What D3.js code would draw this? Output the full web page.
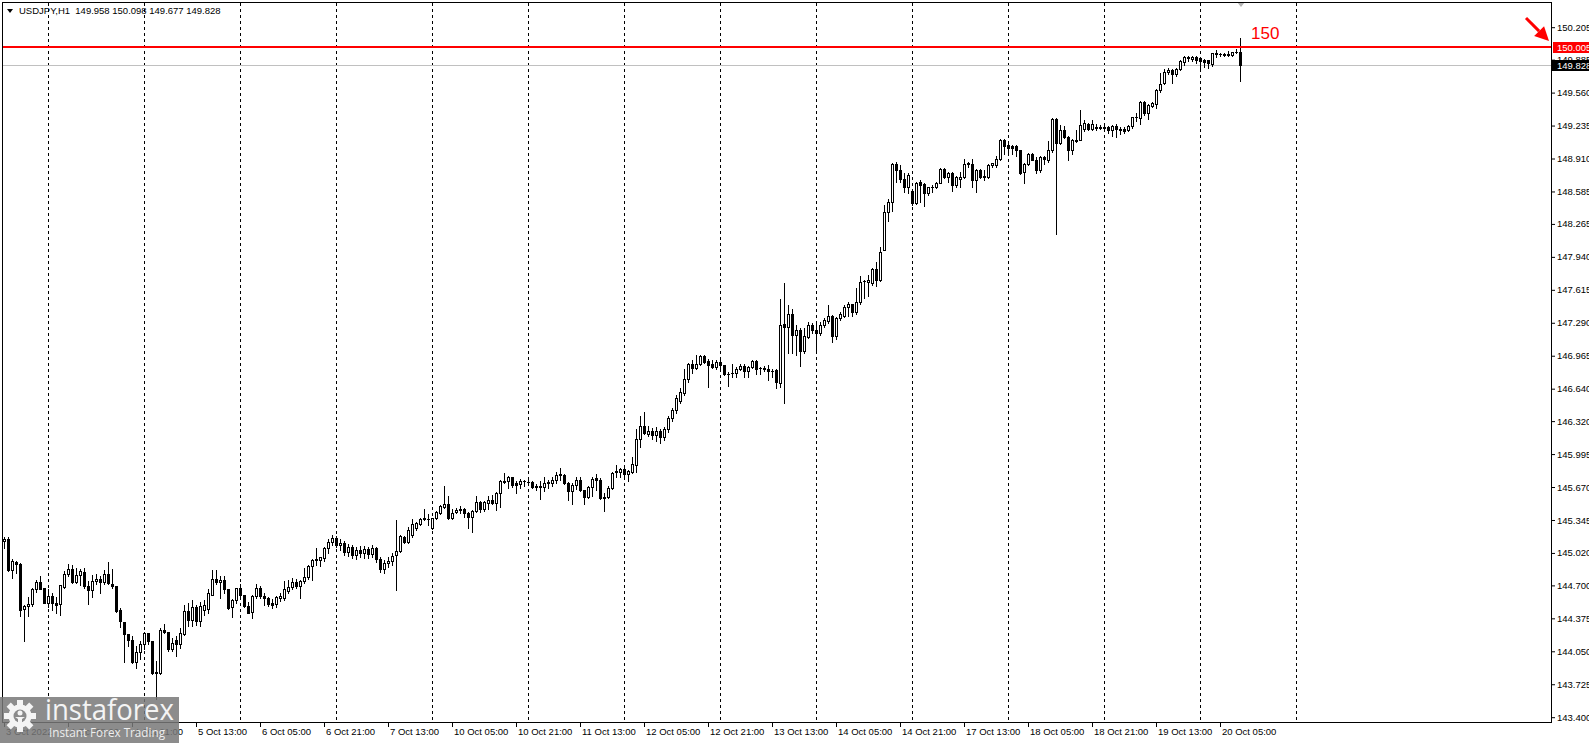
<!DOCTYPE html>
<html>
<head>
<meta charset="utf-8">
<script src="https://cdn.jsdelivr.net/npm/d3@7"></script>
<style>
  body { margin: 0; background: #fff; overflow: hidden; }
  text { font-family: "Liberation Sans", Arial, sans-serif; font-size: 9.5px; }
</style>
</head>
<body>
<script>
const W = 1589, H = 743;

// USDJPY H1, bars from 3 Oct 2022 13:00 onwards
const header = "USDJPY,H1  149.958 150.098 149.677 149.828";

const open = [
  145.14,145.16,144.85,144.93,144.91,144.47,144.50,144.52,144.66,144.73,
  144.67,144.53,144.60,144.53,144.52,144.68,144.81,144.86,144.73,144.80,
  144.83,144.69,144.65,144.74,144.76,144.73,144.81,144.71,144.69,144.46,
  144.34,144.22,144.16,143.94,144.04,144.12,144.23,144.15,143.84,143.84,
  144.26,144.24,144.07,144.16,144.12,144.22,144.45,144.36,144.49,144.35,
  144.46,144.47,144.61,144.76,144.73,144.75,144.66,144.49,144.56,144.67,
  144.61,144.50,144.44,144.60,144.67,144.60,144.58,144.53,144.52,144.58,
  144.58,144.64,144.68,144.73,144.69,144.74,144.78,144.89,144.95,144.95,
  144.97,145.07,145.13,145.17,145.10,145.12,145.03,145.08,145.00,145.05,
  145.02,145.06,145.01,145.07,144.96,144.86,144.92,144.94,145.00,145.04,
  145.18,145.13,145.20,145.27,145.31,145.36,145.35,145.27,145.36,145.41,
  145.47,145.50,145.36,145.42,145.44,145.45,145.41,145.37,145.43,145.52,
  145.45,145.51,145.54,145.51,145.61,145.72,145.73,145.77,145.71,145.70,
  145.73,145.72,145.72,145.68,145.68,145.67,145.71,145.71,145.74,145.79,
  145.79,145.71,145.63,145.69,145.74,145.64,145.57,145.67,145.76,145.74,
  145.57,145.57,145.66,145.82,145.82,145.85,145.80,145.82,145.89,146.14,
  146.27,146.19,146.22,146.18,146.22,146.16,146.24,146.35,146.43,146.52,
  146.60,146.74,146.88,146.84,146.88,146.96,146.91,146.88,146.85,146.90,
  146.87,146.785,146.79,146.79,146.83,146.86,146.81,146.85,146.91,146.845,
  146.84,146.83,146.815,146.82,146.70,147.28,147.25,147.38,147.17,147.22,
  147.01,147.15,147.27,147.22,147.19,147.27,147.31,147.36,147.16,147.34,
  147.36,147.45,147.48,147.40,147.49,147.70,147.69,147.68,147.82,147.71,
  148.01,148.38,148.48,148.86,148.80,148.71,148.63,148.59,148.47,148.68,
  148.66,148.57,148.63,148.63,148.67,148.81,148.73,148.77,148.65,148.71,
  148.73,148.86,148.86,148.70,148.80,148.74,148.73,148.85,148.85,148.91,
  149.09,149.04,149.03,149.03,148.99,148.78,148.86,148.95,148.90,148.80,
  148.92,148.90,148.99,149.30,149.06,149.19,149.12,148.99,149.08,149.09,
  149.20,149.25,149.20,149.22,149.215,149.22,149.22,149.19,149.23,149.20,
  149.20,149.19,149.23,149.32,149.31,149.47,149.36,149.43,149.45,149.59,
  149.65,149.76,149.78,149.74,149.79,149.86,149.91,149.89,149.91,149.90,
  149.88,149.88,149.84,149.95,149.945,149.94,149.935,149.935,149.96,149.958
];
const high = [
  145.18,145.18,144.96,144.94,144.92,144.51,144.59,144.67,144.75,144.79,
  144.67,144.66,144.62,144.59,144.70,144.84,144.91,144.90,144.87,144.86,
  144.87,144.74,144.80,144.81,144.79,144.85,144.93,144.86,144.69,144.48,
  144.34,144.22,144.20,144.10,144.15,144.24,144.23,144.15,143.95,144.28,
  144.32,144.24,144.18,144.20,144.28,144.51,144.53,144.56,144.51,144.54,
  144.56,144.66,144.85,144.85,144.79,144.79,144.66,144.57,144.67,144.71,
  144.61,144.54,144.61,144.71,144.69,144.62,144.59,144.57,144.60,144.62,
  144.74,144.75,144.77,144.76,144.75,144.87,144.90,144.96,145.07,144.98,
  145.08,145.16,145.20,145.19,145.16,145.14,145.11,145.10,145.08,145.09,
  145.09,145.08,145.10,145.08,144.98,144.95,144.98,145.02,145.34,145.20,
  145.19,145.28,145.35,145.33,145.36,145.45,145.40,145.36,145.43,145.49,
  145.68,145.58,145.45,145.46,145.48,145.46,145.42,145.44,145.58,145.53,
  145.53,145.58,145.59,145.62,145.74,145.81,145.78,145.77,145.73,145.75,
  145.74,145.74,145.73,145.70,145.73,145.77,145.74,145.77,145.82,145.86,
  145.80,145.72,145.71,145.77,145.77,145.64,145.68,145.77,145.80,145.76,
  145.61,145.68,145.82,145.89,145.86,145.87,145.84,145.97,146.24,146.37,
  146.41,146.27,146.25,146.26,146.24,146.26,146.37,146.45,146.58,146.65,
  146.83,146.89,146.92,146.97,146.97,146.97,146.93,146.92,146.92,146.92,
  146.87,146.80,146.88,146.85,146.88,146.88,146.86,146.92,146.92,146.85,
  146.86,146.87,146.83,146.83,147.52,147.68,147.47,147.43,147.27,147.24,
  147.24,147.30,147.29,147.29,147.30,147.34,147.47,147.37,147.35,147.40,
  147.47,147.49,147.48,147.63,147.75,147.71,147.76,147.83,147.89,148.04,
  148.45,148.51,148.87,148.88,148.85,148.77,148.77,148.60,148.68,148.70,
  148.67,148.63,148.65,148.68,148.82,148.82,148.78,148.78,148.74,148.78,
  148.91,148.88,148.91,148.81,148.81,148.80,148.86,148.87,148.93,149.10,
  149.10,149.05,149.04,149.04,148.99,148.87,148.96,148.96,148.92,148.93,
  148.93,149.08,149.31,149.31,149.24,149.23,149.13,149.10,149.19,149.39,
  149.29,149.26,149.29,149.25,149.24,149.24,149.23,149.24,149.25,149.22,
  149.22,149.24,149.32,149.36,149.48,149.48,149.45,149.47,149.60,149.75,
  149.79,149.80,149.79,149.80,149.88,149.92,149.92,149.92,149.92,149.91,
  149.89,149.88,149.955,149.98,149.955,149.95,149.975,149.965,149.99,150.098
];
const low = [
  145.07,144.84,144.77,144.82,144.40,144.15,144.40,144.50,144.63,144.66,
  144.53,144.49,144.46,144.43,144.41,144.67,144.79,144.72,144.72,144.70,
  144.67,144.52,144.59,144.71,144.62,144.71,144.71,144.67,144.44,144.29,
  143.94,144.10,143.93,143.89,143.97,144.07,144.12,143.83,143.58,143.83,
  144.23,144.05,144.05,144.00,144.08,144.21,144.30,144.30,144.31,144.30,
  144.41,144.43,144.61,144.71,144.58,144.62,144.47,144.39,144.53,144.59,
  144.49,144.43,144.38,144.58,144.58,144.51,144.50,144.48,144.49,144.55,
  144.56,144.62,144.66,144.67,144.58,144.72,144.76,144.75,144.90,144.89,
  144.94,145.02,145.10,145.08,145.05,145.00,144.99,144.97,144.96,144.98,
  144.97,144.97,144.98,144.93,144.83,144.82,144.88,144.90,144.65,145.03,
  145.12,145.12,145.18,145.25,145.30,145.34,145.30,145.26,145.35,145.40,
  145.46,145.35,145.35,145.41,145.41,145.37,145.27,145.23,145.42,145.42,
  145.43,145.45,145.50,145.44,145.47,145.71,145.66,145.67,145.61,145.66,
  145.68,145.69,145.66,145.64,145.55,145.63,145.66,145.68,145.71,145.74,
  145.70,145.54,145.50,145.65,145.63,145.50,145.56,145.58,145.64,145.55,
  145.43,145.56,145.65,145.77,145.77,145.76,145.73,145.81,145.82,146.06,
  146.19,146.17,146.14,146.12,146.10,146.13,146.21,146.32,146.40,146.50,
  146.58,146.71,146.79,146.83,146.87,146.89,146.66,146.84,146.83,146.83,
  146.77,146.67,146.76,146.76,146.82,146.76,146.76,146.84,146.78,146.78,
  146.81,146.73,146.76,146.65,146.66,146.50,146.99,146.99,146.97,146.86,
  146.99,147.14,147.19,146.99,147.17,147.25,147.29,147.10,147.13,147.32,
  147.35,147.36,147.36,147.38,147.48,147.53,147.55,147.66,147.65,147.70,
  148.01,148.29,148.39,148.68,148.68,148.58,148.57,148.45,148.46,148.48,
  148.44,148.55,148.58,148.62,148.67,148.72,148.68,148.59,148.63,148.63,
  148.72,148.83,148.63,148.58,148.72,148.70,148.72,148.83,148.83,148.90,
  148.95,148.96,148.95,148.93,148.76,148.67,148.85,148.90,148.77,148.78,
  148.86,148.88,148.97,148.17,149.05,149.11,148.90,148.95,149.07,149.09,
  149.18,149.19,149.19,149.19,149.20,149.19,149.16,149.13,149.12,149.15,
  149.16,149.18,149.21,149.28,149.25,149.34,149.30,149.42,149.41,149.57,
  149.64,149.74,149.65,149.72,149.78,149.83,149.87,149.87,149.85,149.78,
  149.81,149.80,149.82,149.91,149.92,149.92,149.92,149.925,149.95,149.677
];
const close = [
  145.16,144.85,144.94,144.91,144.46,144.50,144.52,144.66,144.73,144.66,
  144.53,144.60,144.53,144.51,144.70,144.81,144.86,144.73,144.80,144.84,
  144.69,144.65,144.74,144.76,144.73,144.81,144.72,144.69,144.45,144.35,
  144.22,144.16,143.94,144.04,144.12,144.23,144.15,143.84,143.85,144.26,
  144.24,144.07,144.13,144.12,144.23,144.45,144.36,144.49,144.35,144.50,
  144.51,144.62,144.76,144.73,144.75,144.66,144.48,144.56,144.67,144.61,
  144.50,144.43,144.60,144.67,144.60,144.58,144.52,144.51,144.59,144.60,
  144.66,144.68,144.73,144.69,144.74,144.78,144.89,144.95,144.96,144.98,
  145.07,145.13,145.17,145.10,145.12,145.03,145.08,145.00,145.05,145.02,
  145.06,145.01,145.07,144.96,144.86,144.92,144.94,144.99,145.04,145.19,
  145.13,145.25,145.31,145.32,145.35,145.35,145.355,145.36,145.42,145.48,
  145.50,145.36,145.41,145.44,145.45,145.41,145.37,145.43,145.52,145.45,
  145.52,145.54,145.51,145.61,145.73,145.73,145.77,145.69,145.69,145.73,
  145.725,145.715,145.67,145.675,145.67,145.71,145.715,145.74,145.79,145.795,
  145.71,145.63,145.69,145.74,145.64,145.57,145.67,145.75,145.74,145.56,
  145.56,145.66,145.81,145.825,145.85,145.80,145.83,145.90,146.14,146.27,
  146.20,146.22,146.18,146.22,146.16,146.24,146.35,146.43,146.55,146.61,
  146.74,146.88,146.84,146.88,146.96,146.90,146.87,146.85,146.90,146.87,
  146.78,146.78,146.795,146.83,146.86,146.81,146.85,146.91,146.83,146.84,
  146.835,146.81,146.81,146.71,147.27,147.25,147.38,147.17,147.22,147.01,
  147.16,147.27,147.22,147.19,147.27,147.32,147.36,147.16,147.34,147.38,
  147.45,147.48,147.40,147.49,147.69,147.705,147.71,147.82,147.71,147.99,
  148.38,148.48,148.86,148.80,148.71,148.63,148.75,148.47,148.67,148.65,
  148.57,148.63,148.625,148.67,148.81,148.73,148.77,148.65,148.73,148.73,
  148.86,148.865,148.70,148.80,148.73,148.73,148.85,148.87,148.91,149.09,
  149.03,149.01,149.01,148.99,148.77,148.86,148.95,148.90,148.80,148.92,
  148.905,148.99,149.30,149.06,149.19,149.12,148.99,149.09,149.09,149.24,
  149.26,149.20,149.25,149.215,149.22,149.215,149.19,149.23,149.20,149.195,
  149.18,149.23,149.32,149.32,149.47,149.36,149.44,149.46,149.59,149.64,
  149.76,149.78,149.74,149.79,149.87,149.91,149.905,149.91,149.88,149.87,
  149.86,149.85,149.95,149.945,149.94,149.935,149.94,149.96,149.965,149.828
];

// time axis labels, one every 16 bars
const timeLabels = ["3 Oct 2022","4 Oct 05:00","4 Oct 21:00","5 Oct 13:00","6 Oct 05:00",
  "6 Oct 21:00","7 Oct 13:00","10 Oct 05:00","10 Oct 21:00","11 Oct 13:00","12 Oct 05:00",
  "12 Oct 21:00","13 Oct 13:00","14 Oct 05:00","14 Oct 21:00","17 Oct 13:00","18 Oct 05:00",
  "18 Oct 21:00","19 Oct 13:00","20 Oct 05:00"];
const priceTicks = [150.205,149.885,149.560,149.235,148.910,148.585,148.265,147.940,147.615,
  147.290,146.965,146.640,146.320,145.995,145.670,145.345,145.020,144.700,144.375,144.050,
  143.725,143.400];
const level = 150.005;   // red horizontal level
const bid = 149.828;     // last price line
const levelText = "150";

const pL = 2, pT = 2, pR = 1551, pB = 722;

const x = d3.scaleLinear().domain([0, 1]).range([4, 8]);          // 4 px per hourly bar
const y = d3.scaleLinear().domain([143.400, 150.205]).range([717.2, 27.2]);

const svg = d3.select("body").append("svg")
  .attr("width", W).attr("height", H).style("display", "block");

// day separators (dashed)
const days = d3.range(11, 330, 24);
svg.append("g").selectAll("line").data(days).join("line")
  .attr("x1", d => x(d) + 0.5).attr("x2", d => x(d) + 0.5)
  .attr("y1", pT + 1).attr("y2", pB)
  .attr("stroke", "#000").attr("stroke-dasharray", "3,3");

// bid line
const yb = Math.round(y(bid)) + 0.5;
svg.append("line").attr("x1", pL).attr("x2", pR).attr("y1", yb).attr("y2", yb)
  .attr("stroke", "#c0c0c0");

// candles
const bars = d3.range(open.length);
const cg = svg.append("g").attr("shape-rendering", "crispEdges");
bars.forEach(i => {
  const c = x(i);
  const yh = Math.round(y(high[i])), yl = Math.round(y(low[i]));
  const yo = Math.round(y(open[i])), yc = Math.round(y(close[i]));
  const t = Math.min(yo, yc), b = Math.max(yo, yc);
  cg.append("rect").attr("x", c).attr("y", yh).attr("width", 1).attr("height", yl - yh + 1).attr("fill", "#000");
  cg.append("rect").attr("x", c - 1).attr("y", t).attr("width", 3).attr("height", b - t + 1).attr("fill", "#000");
  if (close[i] > open[i] && b - t > 1)
    cg.append("rect").attr("x", c).attr("y", t + 1).attr("width", 1).attr("height", b - t - 1).attr("fill", "#fff");
});

// red level line
const yr = Math.round(y(level));
svg.append("line").attr("x1", pL).attr("x2", pR).attr("y1", yr).attr("y2", yr)
  .attr("stroke", "#ff0000").attr("stroke-width", 2);
svg.append("text").attr("x", 1251).attr("y", 39).attr("fill", "#ff0000")
  .style("font-size", "17px").text(levelText);

// shift marker
svg.append("path").attr("d", "M1237,2L1245,2L1241,7Z").attr("fill", "#b4b4b4");

// frame
svg.append("path")
  .attr("d", `M${pL + 0.5},${pB + 0.5}V${pT + 0.5}H${pR + 0.5}V${pB + 0.5}H${pL + 0.5}`)
  .attr("fill", "none").attr("stroke", "#000").attr("shape-rendering", "crispEdges");

// axes
const xAxis = svg.append("g").attr("transform", `translate(0,${pB})`)
  .call(d3.axisBottom(x).tickValues(d3.range(0, timeLabels.length * 16, 16))
    .tickFormat((d, i) => timeLabels[i]).tickSize(5));
xAxis.select(".domain").remove();
xAxis.selectAll("text").attr("text-anchor", "start").attr("x", 1.5).attr("y", 6)
  .attr("fill", "#000").style("font-size", "9.5px").style("font-family", null);

const yAxis = svg.append("g").attr("transform", `translate(${pR},0)`)
  .call(d3.axisRight(y).tickValues(priceTicks).tickFormat(d3.format(".3f")).tickSize(4).tickPadding(2));
yAxis.select(".domain").remove();
yAxis.selectAll("text").attr("fill", "#000").style("font-size", "9.5px").style("font-family", null);

// price labels on the axis
function priceBox(v, fill, x0) {
  const yy = Math.round(y(v));
  svg.append("rect").attr("x", x0).attr("y", yy - 5).attr("width", W - x0).attr("height", 11).attr("fill", fill);
  svg.append("text").attr("x", 1557).attr("y", yy + 4).attr("fill", "#fff").text(d3.format(".3f")(v));
}
priceBox(level, "#ff0000", 1553);
priceBox(bid, "#000", 1552);

// red arrow pointing at the level label
const tip = [1549, 41], len = 14, hw = 7, k = Math.SQRT1_2;
const base = [tip[0] - len * k, tip[1] - len * k];
svg.append("line").attr("x1", 1526).attr("y1", 18).attr("x2", base[0]).attr("y2", base[1])
  .attr("stroke", "#ff0000").attr("stroke-width", 3);
svg.append("path").attr("fill", "#ff0000")
  .attr("d", `M${tip}L${base[0] - hw * k},${base[1] + hw * k}L${base[0] + hw * k},${base[1] - hw * k}Z`);

// header
svg.append("path").attr("d", "M7,9L13,9L10,13Z").attr("fill", "#000");
svg.append("text").attr("x", 19).attr("y", 14).attr("fill", "#000").attr("xml:space", "preserve")
  .style("white-space", "pre").text(header);

// watermark
const logo = svg.append("g");
logo.append("rect").attr("x", 0).attr("y", 697).attr("width", 179).attr("height", 46)
  .attr("fill", "#787878").attr("opacity", 0.85);
const gear = logo.append("g").attr("transform", "translate(20,716)").attr("fill", "#f4f4f4");
gear.selectAll("rect").data(d3.range(8)).join("rect")
  .attr("x", -3).attr("y", -16).attr("width", 6).attr("height", 7)
  .attr("transform", d => `rotate(${d * 45})`);
gear.append("circle").attr("r", 11.5);
gear.append("circle").attr("r", 6.5).attr("fill", "#8a8a8a");
gear.append("circle").attr("cy", -3).attr("r", 2.5);
gear.append("path").attr("d", "M-5,1H5L2,3V12H-2V3Z");
logo.append("text").attr("x", 45).attr("y", 720).attr("fill", "#f4f4f4")
  .attr("textLength", 129).attr("lengthAdjust", "spacingAndGlyphs")
  .style("font-family", "'Open Sans', sans-serif").style("font-size", "29px").text("instaforex");
logo.append("text").attr("x", 49).attr("y", 737).attr("fill", "#eeeeee")
  .attr("textLength", 116).attr("lengthAdjust", "spacingAndGlyphs")
  .style("font-family", "'Open Sans', sans-serif").style("font-size", "12px").text("Instant Forex Trading");
</script>
</body>
</html>
